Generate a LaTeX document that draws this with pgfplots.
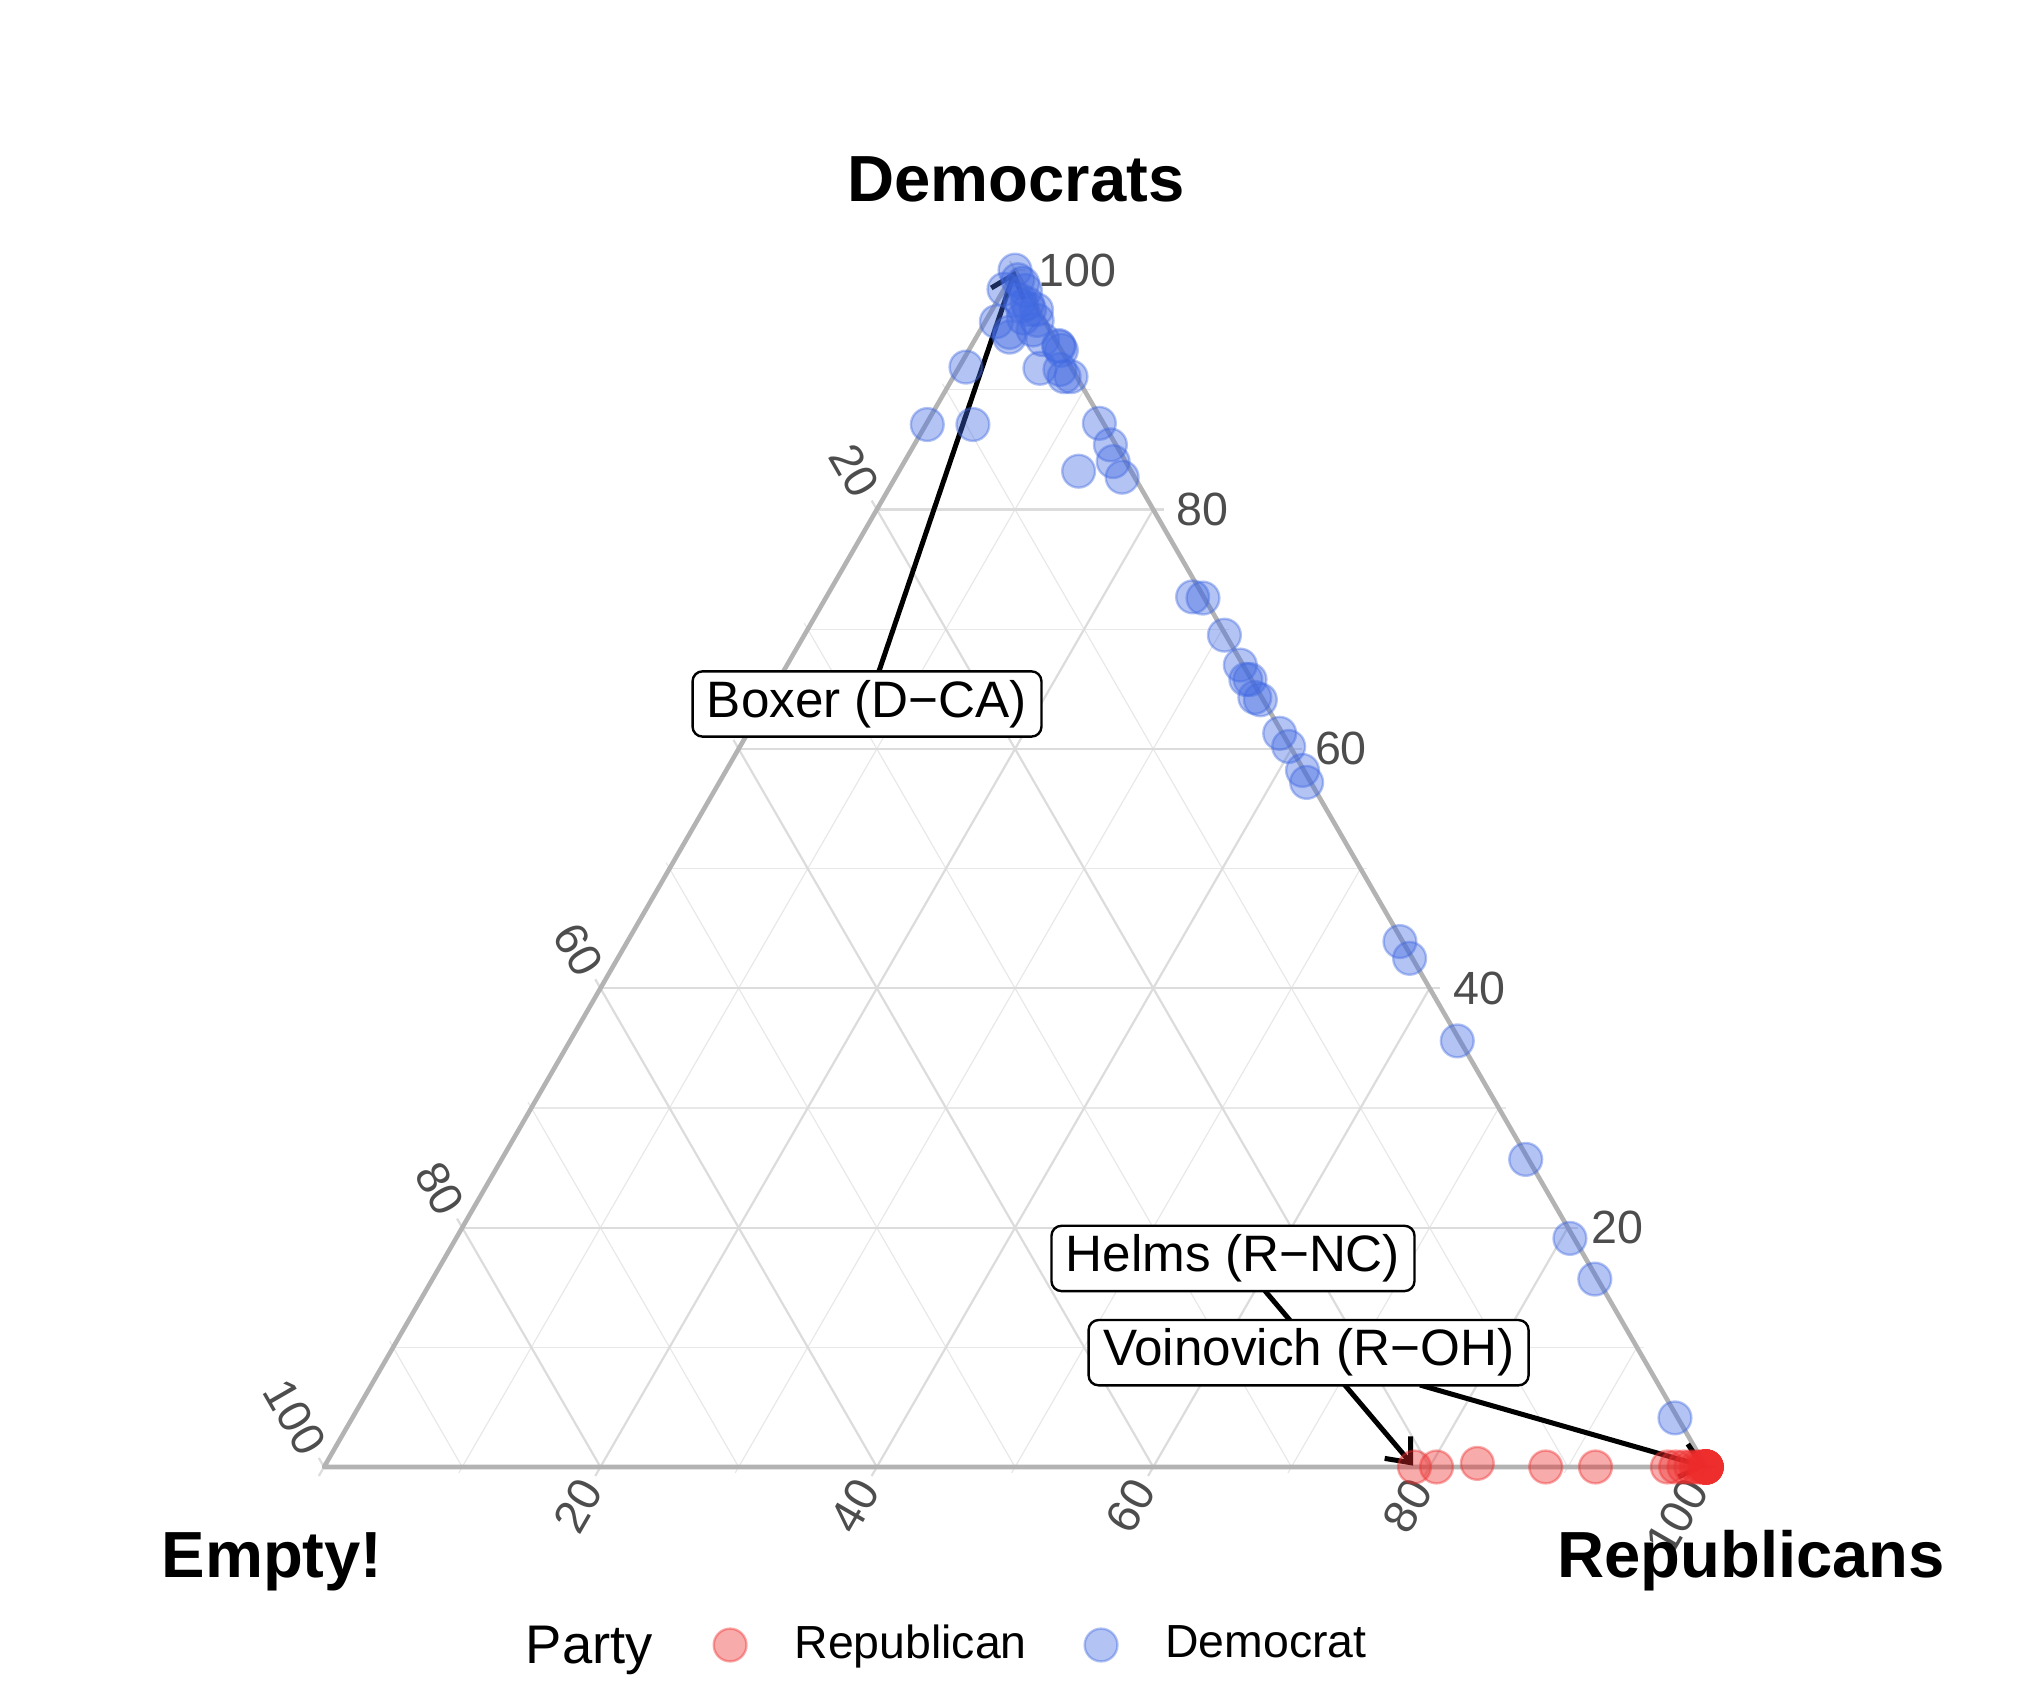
\documentclass[border=0pt]{standalone}
\usepackage{fontspec}
\setmainfont{Liberation Sans}
\usepackage{pgfplots}
\usepackage{pgfplotstable}
\pgfplotsset{compat=1.18}
\usetikzlibrary{arrows.meta}

\definecolor{repred}{RGB}{238,44,44}
\definecolor{demblue}{RGB}{65,105,225}
\definecolor{gridmaj}{RGB}{220,220,220}
\definecolor{gridmin}{RGB}{232,232,232}
\definecolor{bordergray}{RGB}{179,179,179}
\definecolor{ticktext}{RGB}{77,77,77}

% Democrat share (D) and Republican share (R); the rest is "Empty!"
\pgfplotstableread{
D R
100 0
98.4 0
98.9 1.1
99.2 0.6
98.3 1.6
97.5 1.6
97.2 2.3
97.0 2.0
96.7 2.7
96.7 3.2
96.0 2.6
95.8 3.7
95.7 0.8
95.0 3.8
94.8 2.2
94.4 2.4
94.2 4.9
93.6 6.4
93.3 6.7
93.7 6.3
91.8 5.9
91.7 7.4
91.1 8.0
91.1 8.5
91.9 0.5
87.1 0.1
87.1 3.4
87.2 12.5
85.4 14.2
83.2 13.0
84.0 15.1
82.7 16.4
72.7 26.5
72.6 27.3
69.5 30.4
67.0 32.8
65.8 34.1
65.8 33.8
64.3 35.2
64.1 35.7
61.3 38.5
60.2 39.7
58.2 41.7
57.2 42.5
43.9 55.9
42.5 57.3
35.6 64.2
25.7 74.1
19.1 80.6
15.7 84.1
4.1 95.7
}\demdata

\pgfplotstableread{
D R
0 78.9
0 80.5
0.3 83.3
0 88.4
0 92.0
0 97.2
0 97.8
0 98.4
0 98.9
0 99.3
0 99.6
0 99.8
0 100
0 100
0 100
0 100
0 100
0 100
0 100
0 100
0 100
0 100
0 100
0 100
0 100
0 100
0 100
0 100
}\repdata

\begin{document}
\begin{tikzpicture}
\begin{axis}[
  hide axis, scale only axis,
  width=508.5pt, height=423.75pt,
  xmin=-23.445, xmax=123.73, ymin=-16.50, ymax=106.15,
  clip=false,
  legend style={at={(0.3505,0.0295)}, anchor=west, draw=none, fill=none,
    inner sep=0pt, font=\fontsize{11.6}{13.9}\selectfont,
    nodes={inner sep=0pt},
    /tikz/every odd column/.append style={column sep=12pt},
    /tikz/every even column/.append style={column sep=14.5pt}},
  legend columns=-1,
  legend image code/.code={\draw[#1] plot coordinates {(0pt,0pt)};},
]
% minor grid and ticks
\pgfplotsinvokeforeach{10,30,50,70,90}{
  \draw[gridmin, line width=0.3pt] (axis cs:{#1/2},{0.8660254*#1}) -- (axis cs:{100-#1/2},{0.8660254*#1}) -- ++(axis direction cs:0.5,0);
  \draw[gridmin, line width=0.3pt] (axis cs:{#1-0.25},{-0.433}) -- (axis cs:{(100+#1)/2},{0.8660254*(100-#1)});
  \draw[gridmin, line width=0.3pt] (axis cs:{100-#1},0) -- (axis cs:{(100-#1)/2-0.25},{0.8660254*(100-#1)+0.433});
}
% major grid and ticks
\pgfplotsinvokeforeach{20,40,60,80}{
  \draw[gridmaj, line width=0.55pt] (axis cs:{#1/2},{0.8660254*#1}) -- (axis cs:{100-#1/2},{0.8660254*#1}) -- ++(axis direction cs:0.75,0);
  \draw[gridmaj, line width=0.55pt] (axis cs:{#1-0.375},{-0.65}) -- (axis cs:{(100+#1)/2},{0.8660254*(100-#1)});
  \draw[gridmaj, line width=0.55pt] (axis cs:{100-#1},0) -- (axis cs:{(100-#1)/2-0.375},{0.8660254*(100-#1)+0.65});
}
% corner ticks
\draw[gridmaj, line width=0.55pt] (axis cs:50,86.60254) -- (axis cs:50.75,86.60254);
\draw[gridmaj, line width=0.55pt] (axis cs:50,86.60254) -- (axis cs:49.625,87.25);
\draw[gridmaj, line width=0.55pt] (axis cs:0,0) -- (axis cs:-0.375,0.65);
\draw[gridmaj, line width=0.55pt] (axis cs:0,0) -- (axis cs:-0.375,-0.65);
\draw[gridmaj, line width=0.55pt] (axis cs:100,0) -- (axis cs:99.625,-0.65);
\draw[gridmaj, line width=0.55pt] (axis cs:100,0) -- (axis cs:100.75,0);
% triangle border
\draw[bordergray, line width=1.15pt, line join=round] (axis cs:0,0) -- (axis cs:100,0) -- (axis cs:50,86.60254) -- cycle;

% tick labels
\pgfplotsinvokeforeach{20,40,60,80,100}{
  \node[anchor=west, inner sep=0pt, text=ticktext, font=\fontsize{11.65}{14}\selectfont]
    at (axis cs:{100-#1/2+1.65},{0.8660254*#1}) {#1};
  \node[anchor=east, rotate=-60, inner sep=0pt, text=ticktext, font=\fontsize{11.65}{14}\selectfont]
    at (axis cs:{(100-#1)/2-0.65},{0.8660254*(100-#1)+1.13}) {#1};
  \node[anchor=east, rotate=60, inner sep=0pt, text=ticktext, font=\fontsize{11.65}{14}\selectfont]
    at (axis cs:{#1-0.65},{-1.13}) {#1};
}

% vertex titles
\node[anchor=base, inner sep=0pt, font=\fontsize{16.3}{19}\selectfont\bfseries] at (axis cs:50.07,91.6) {Democrats};
\node[anchor=base, inner sep=0pt, font=\fontsize{16.3}{19}\selectfont\bfseries] at (axis cs:-3.76,-8.03) {Empty!};
\node[anchor=base, inner sep=0pt, font=\fontsize{16.3}{19}\selectfont\bfseries] at (axis cs:103.26,-8.03) {Republicans};

% points
\addplot[only marks, mark=*, mark size=4.1pt,
  mark options={draw=repred, fill=repred, fill opacity=0.4, draw opacity=0.4, line width=0.6pt}]
  table[x expr=\thisrow{R}+0.5*\thisrow{D}, y expr=0.8660254*\thisrow{D}] {\repdata};
\addplot[only marks, mark=*, mark size=4.1pt,
  mark options={draw=demblue, fill=demblue, fill opacity=0.4, draw opacity=0.4, line width=0.6pt}]
  table[x expr=\thisrow{R}+0.5*\thisrow{D}, y expr=0.8660254*\thisrow{D}] {\demdata};
\legend{Republican, Democrat}

% legend title
\node[anchor=base west, inner sep=0pt, font=\fontsize{13.6}{16}\selectfont] at (axis cs:14.54,-14.25) {Party};

% annotations
\draw[line width=1.25pt, -{Straight Barb[length=5pt, width=8.5pt, line width=1.25pt]}] (axis cs:40.16,57.6) -- (axis cs:50,86.55);
\node[draw=black, fill=white, rounded corners=2.5pt, line width=0.6pt, inner xsep=3.6pt, inner ysep=2.2pt, font=\fontsize{12.8}{15}\selectfont] at (axis cs:39.29,55.21) {Boxer (D−CA)};
\draw[line width=1.25pt, -{Straight Barb[length=5pt, width=8.5pt, line width=1.25pt]}] (axis cs:68.09,12.74) -- (axis cs:78.8,0.1);
\node[draw=black, fill=white, rounded corners=2.5pt, line width=0.6pt, inner xsep=3.6pt, inner ysep=2.2pt, font=\fontsize{12.8}{15}\selectfont] at (axis cs:65.77,15.09) {Helms (R−NC)};
\draw[line width=1.25pt, -{Straight Barb[length=5pt, width=8.5pt, line width=1.25pt]}] (axis cs:79.3,5.93) -- (axis cs:100,0);
\node[draw=black, fill=white, rounded corners=2.5pt, line width=0.6pt, inner xsep=3.6pt, inner ysep=2.2pt, font=\fontsize{12.8}{15}\selectfont] at (axis cs:71.24,8.27) {Voinovich (R−OH)};
\end{axis}
\pgfresetboundingbox
\path (current axis.south west) rectangle (current axis.north east);
\end{tikzpicture}
\end{document}
